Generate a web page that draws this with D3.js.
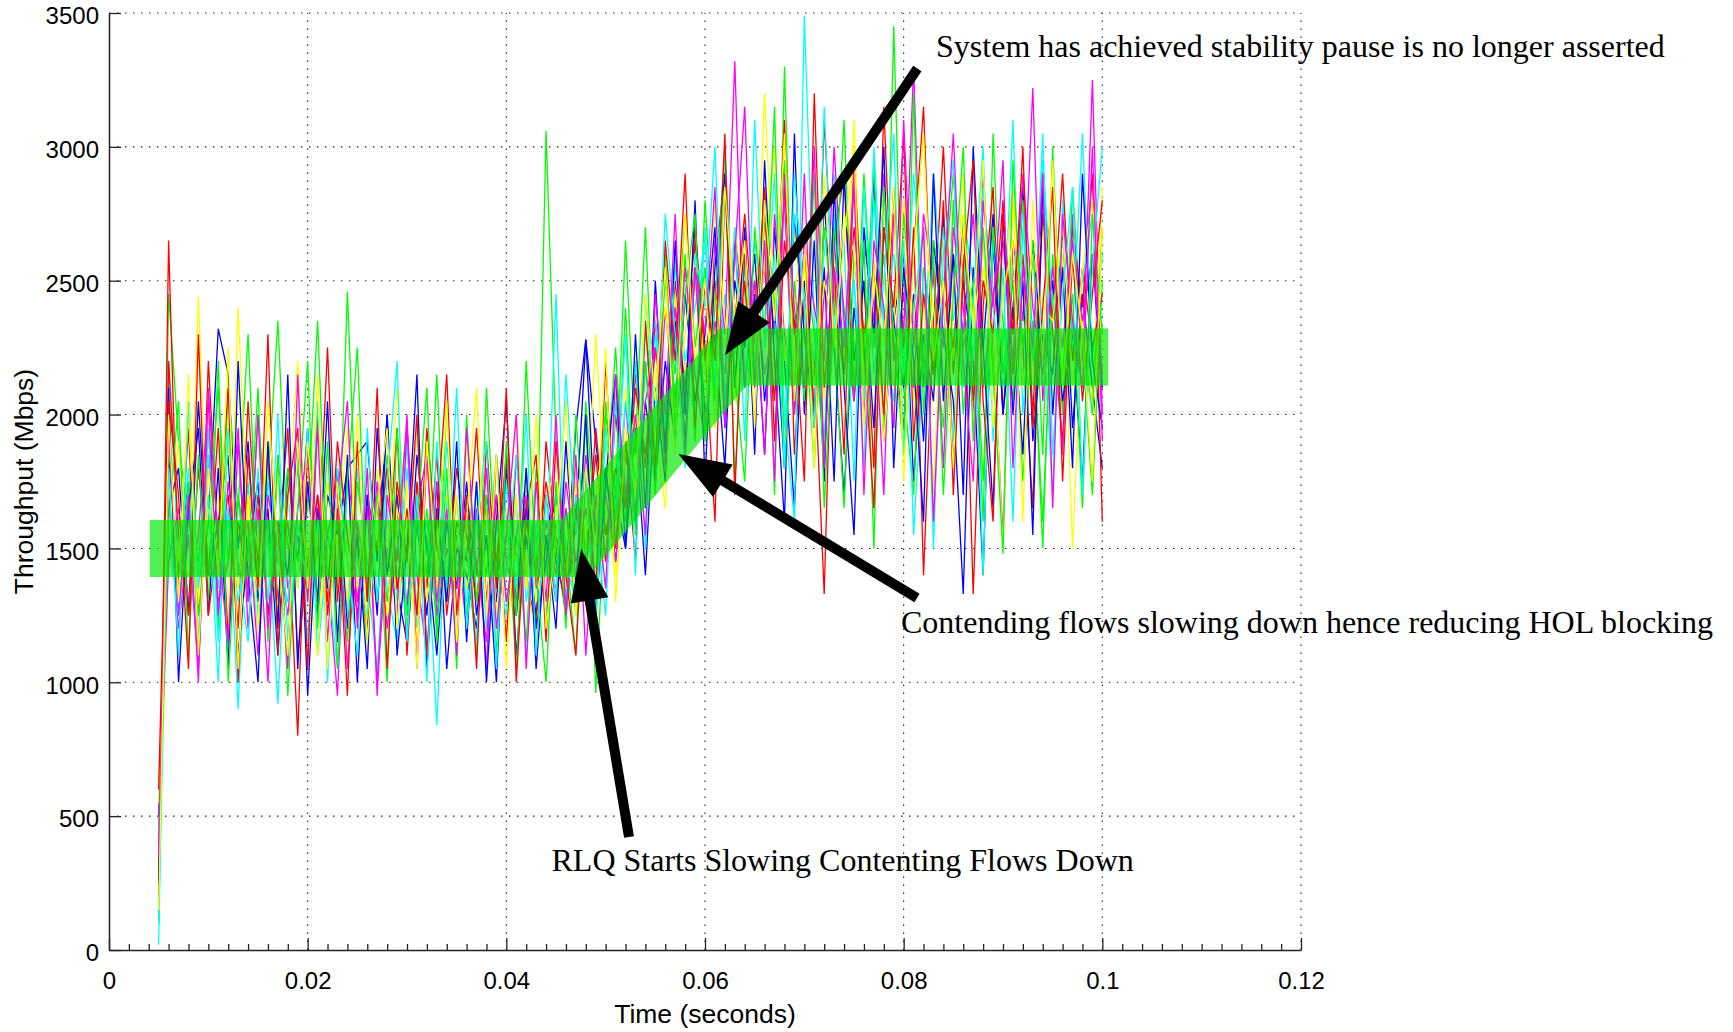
<!DOCTYPE html>
<html>
<head>
<meta charset="utf-8">
<script src="https://cdn.jsdelivr.net/npm/d3@7"></script>
<style>
  body { margin: 0; background: #fff; }
  svg { display: block; }
  .axis text { font-family: "Liberation Sans", Arial, sans-serif; font-size: 24px; fill: #000; }
  .axis-title { font-family: "Liberation Sans", Arial, sans-serif; font-size: 26.5px; fill: #000; }
  .note { font-family: "Liberation Serif", "Times New Roman", serif; font-size: 32px; fill: #000; }
</style>
</head>
<body>
<script>
/* ============================ DATA ============================ */
// sample instants (s), one per millisecond
var sampleTimes = [0.005,0.006,0.007,0.008,0.009,0.010,0.011,0.012,0.013,0.014,
  0.015,0.016,0.017,0.018,0.019,0.020,0.021,0.022,0.023,0.024,
  0.025,0.026,0.027,0.028,0.029,0.030,0.031,0.032,0.033,0.034,
  0.035,0.036,0.037,0.038,0.039,0.040,0.041,0.042,0.043,0.044,
  0.045,0.046,0.047,0.048,0.049,0.050,0.051,0.052,0.053,0.054,
  0.055,0.056,0.057,0.058,0.059,0.060,0.061,0.062,0.063,0.064,
  0.065,0.066,0.067,0.068,0.069,0.070,0.071,0.072,0.073,0.074,
  0.075,0.076,0.077,0.078,0.079,0.080,0.081,0.082,0.083,0.084,
  0.085,0.086,0.087,0.088,0.089,0.090,0.091,0.092,0.093,0.094,
  0.095,0.096,0.097,0.098,0.099,0.100];

// throughput of each flow (Mbps)
var flow01 = [300,1850,1400,1750,1250,1600,2320,2150,1500,1900, 1300,1650,1100,1800,1450,1950,1250,1700,1550,1800,
  1850,1900,1450,2000,1350,1150,1600,1250,1750,1050, 1500,1400,1200,1650,1300,1850,1100,1550,1250,1700,
  1450,1300,1600,2280,1900,1550,1700,1500,1950,1400, 2100,1750,2350,1900,2550,2000,2300,1800,2650,2100,
  2450,1850,2700,2200,1650,2500,1950,2800,2250,1700, 2400,2050,2900,1900,2350,2600,1750,2300,2050,2750,
  1800,2500,2200,1400,2650,2000,2400,2850,1900,2300, 2150,2700,1950,2450,2100,1800];
var flow02 = [150,2450,1900,1600,1450,1950,1200,2100,1650,2300, 1400,1750,2350,1500,1800,1300,2000,1550,1350,2460,
  1500,1150,1700,1300,1600,1950,1250,1650,1200,2050, 1350,1500,1100,2100,1400,1650,1050,1800,1350,3060,
  1900,1500,1100,2000,960,1700,2250,1600,1900,2700, 1800,2550,2050,2600,1900,2800,2200,2950,1750,2500,
  2100,2850,1700,3300,2000,2400,1800,2700,2300,1650, 2600,2200,2950,1900,3450,2100,1700,2550,2300,1950,
  2800,2000,2450,1600,3050,2150,2500,1750,2350,1500, 2600,2000,2850,2250,1700,2500];
var flow03 = [100,2650,1350,1950,1100,2200,1500,1700,1200,2050, 1450,1850,1300,1600,800,1900,1450,2250,1300,1750,
  1550,1200,1650,1400,1950,1100,1750,1350,1850,1250, 1600,1450,1950,1300,1700,1150,1850,1400,1200,1900,
  1550,1350,1700,1500,1850,1450,2000,1650,2150,1800, 2350,1950,2500,2100,2700,2250,1600,2850,2100,2500,
  1950,2750,2300,3100,1850,2450,2200,1330,2650,2900, 2050,2500,1800,3150,2250,1950,2700,1400,2350,3000,
  2150,2600,1330,2400,2850,2000,2550,2250,1650,2950, 2300,1900,2700,2400,2900,1600];
var flow04 = [20,2200,1450,1800,1150,1950,1350,1650,900,1750, 1250,1550,920,1700,1350,1950,1100,1500,1700,1250,
  1800,1400,1050,1650,1300,1900,1200,1550,840,1700, 1350,1500,1150,1800,1450,1250,1700,1100,1600,1400,
  2450,1300,1700,1450,1600,1250,2050,1700,2200,1500, 2300,1950,2600,2150,2000,2700,1950,2450,2250,2100,
  2650,2300,2900,2000,1600,3490,2350,1900,2750,2150, 2500,1800,3000,2300,2050,2650,1550,2200,2900,2400,
  1900,2750,2500,1400,2650,2250,3100,2000,2600,2350, 1700,2800,2300,3050,2200,2600];
var flow05 = [400,1700,1200,1550,1050,1850,1300,1450,1950,1200, 1650,1000,1850,1350,1550,1150,1700,1400,950,1800,
  1300,1650,1000,1500,1250,1950,1400,1100,1750,1350, 1550,1200,1650,1050,1850,1450,1300,1700,1150,1550,
  1300,1750,1450,1650,1350,1800,1500,2050,1600,2200, 1750,2400,2000,2550,2150,1900,2650,2300,3320,2100,
  2500,1850,2750,2300,2050,2900,1950,2450,2650,2200, 2850,2000,2450,1700,2750,2300,3300,2100,2550,1800,
  2700,2400,2000,2900,2250,1550,2650,2350,3220,2050, 2500,1850,2750,2200,3250,2000];
var flow06 = [250,1500,1900,1300,2440,1450,1700,1200,2400,1550, 1350,1900,1250,1650,2200,1400,1100,1750,1500,1950,
  1450,1250,1800,1400,2100,1500,1150,1850,1350,1700, 1500,1900,1300,1650,1200,1550,2000,1400,1150,1650,
  1850,1350,1750,1500,2300,1650,1400,2100,1750,2350, 1950,1650,2450,2150,2550,1900,2800,2350,2050,2600,
  2200,3200,2400,1900,2700,2250,2950,2050,2500,2200, 3100,2100,2600,1900,2350,2800,2050,2450,1700,2650,
  2200,2900,1950,2550,2300,1500,2800,2100,2450,2700, 2000,2600,1500,2350,2050,2850];
var flow07 = [500,1650,1800,1250,2050,1400,1600,1850,1100,1500, 1750,1250,1600,1400,1900,950,1650,1350,1800,1200,
  1550,1050,1950,1400,1700,1250,1850,1500,1100,1600, 1350,1750,1250,1550,1000,1800,1450,1650,1200,1450,
  1700,1400,1950,2280,1550,1800,1450,1900,1600,2050, 1750,2200,1900,2450,2050,2300,2700,1950,2500,2250,
  2600,2050,2400,1800,2750,2300,2000,2550,1750,2900, 2200,2500,1950,2700,2350,2100,2450,1900,2650,2300,
  2050,1330,2550,2250,2750,2000,2400,1850,2650,2200, 2500,2050,2300,1750,2600,2100];
var flow08 = [350,1900,1350,1750,1250,1600,2100,1450,1700,1300, 2000,1550,1250,1800,1450,1650,2350,1400,1600,1150,
  1750,1450,1300,1850,1550,1200,1650,1400,2150,1300, 1700,1250,1600,1400,1850,1300,1550,1150,1800,1500,
  1350,1650,1250,2050,1550,2000,1700,2650,1850,2300, 2050,2500,2150,2750,2250,2550,2050,2850,2350,2600,
  2150,2750,2400,2950,2100,2600,2300,1850,2700,2400, 2050,2900,2250,2600,1950,2750,2350,2150,2650,2450,
  2900,2250,2500,1750,2700,2350,2050,2800,2300,1600, 2450,2150,2650,2300,2000,2700];
var flow09 = [200,2200,1550,1250,1800,1400,1950,1150,1600,1350, 1700,1250,1500,1950,1100,1450,1700,1300,1900,1550,
  1250,1700,1500,1800,1350,1650,1250,1950,1500,1350, 1800,1550,1300,1700,1450,1850,1250,1600,1400,1750,
  1500,1250,1650,1400,1950,1550,1800,1650,2100,1850, 2250,1900,2400,2050,2650,2200,2500,2050,2350,2750,
  2250,2550,2050,2850,2300,2600,2000,3100,2400,2150, 2700,2300,2550,2000,2850,2250,2600,3150,2150,2450,
  2250,2700,2050,2500,2300,2800,2150,2600,2000,2750, 2350,2900,2200,2550,2250,2450];
var flow10 = [600,1550,1250,1700,1400,1850,1150,1650,1300,1550, 1200,1750,1450,1300,1850,1150,1600,1400,1050,1750,
  1450,1250,1700,1350,1150,1800,1400,1600,1250,1900, 1450,1300,1750,1200,1600,1400,1850,1300,1550,1250,
  1700,1450,1300,1750,1500,1900,1600,2050,1750,2150, 2350,1950,2550,2200,2400,2650,2100,2950,2300,2550,
  2150,2650,2350,1950,2750,2450,2200,2600,2900,2300, 2500,2050,2800,2350,2600,2150,2900,2450,2250,2700,
  2350,2600,2200,2850,2400,2100,2550,2750,2250,2950, 2400,2650,2250,2500,2750,2300];
var flow11 = [450,1450,1650,1300,1550,2050,1250,1750,1400,1600, 1100,1700,1500,1250,1650,1850,1300,1550,1750,1050,
  1600,1350,1750,1200,1500,1300,1650,1850,1250,1500, 1350,1650,1450,1150,1700,1300,1550,1750,1350,1600,
  1400,1650,1350,1850,1550,1700,1450,1850,1650,2050, 2250,1800,2400,2050,2550,1950,2350,2150,2700,2300,
  2500,2150,2350,2800,2000,2650,2400,2200,3000,2350, 2050,2650,2350,2900,2200,2450,2100,2750,2500,2250,
  2600,2300,2750,2100,2450,2650,2200,2900,2400,2150, 2550,2250,2650,2350,2600,2150];
var flow12 = [550,1750,1450,2000,1300,1650,1450,1900,1350,1700, 1500,1300,1800,1550,1350,1900,1450,1250,1700,1500,
  1350,1800,1550,1250,1650,1450,1950,1300,1600,1400, 1700,1350,1550,1900,1250,1650,1450,1750,1300,1550,
  1650,1400,1800,1550,1700,1950,1500,1850,2000,1750, 2150,2400,2000,2300,2600,2150,2450,2250,2700,2400,
  2250,2550,3000,2200,2450,2700,2100,2500,2300,2750, 2600,2250,2450,2850,2100,2550,2350,2700,2400,2050,
  2500,2750,2300,2650,2150,2450,2850,2250,2600,2400, 2350,2700,2100,2550,2800,2250];
var flow13 = [250,2100,1000,1650,1950,1250,1800,1050,2200,1400, 1000,1900,1200,2150,1050,1750,1300,2050,1150,1850,
  1000,1700,1250,2000,1100,1500,2150,1050,1650,1300, 1900,1150,1750,1000,1600,2050,1250,1800,1050,1550,
  1200,1900,1350,2000,1250,1750,2150,1500,2300,1650, 2500,1850,2650,2000,2800,1750,2550,2900,2100,2700,
  1850,2950,2200,1600,3050,2000,2650,1750,2850,2100, 1550,2700,2300,3000,1800,2550,2200,1600,2900,2050,
  2600,1700,3000,2250,1650,2750,2000,2500,1550,2850, 2000,2550,1800,2900,2200,1950];
var flow14 = [450,1600,2050,1100,1850,1300,2200,1000,1700,1450, 2100,1150,1850,950,1650,2200,1200,1900,1050,1750,
  2250,1300,1700,1000,1950,1250,1600,2100,1150,1800, 1050,2000,1300,1700,1100,1900,1250,2200,1400,1000,
  1750,1200,2000,1450,1250,2050,1600,2400,1550,2200, 1700,2600,1950,2450,2750,1900,2400,3000,2150,1750,
  2700,2300,3150,1800,2500,2050,2900,1650,2400,3100, 2100,2650,1500,2850,2300,1850,3200,2000,2600,1700,
  2450,3000,1900,2700,2150,1480,2950,2250,2650,1850, 3000,2100,2450,1650,2750,2300];
var flow15 = [600,2050,1700,1050,2300,1250,1550,2100,1000,1850, 1350,2300,1100,1700,1950,1050,2000,1250,1650,950,
  1900,1300,2100,1050,1750,1450,2000,1100,1600,2150, 1250,1700,1050,1900,1350,2100,1000,1650,1850,1150,
  1900,1400,1100,1800,1350,2200,1500,1900,1450,2350, 1800,2650,2200,2900,1950,2500,2200,3050,1700,2600,
  2300,2850,1900,2650,2350,1750,3200,2100,2550,1850, 2950,2250,1650,2700,2400,3050,1900,2450,2150,2800,
  1700,2550,2950,2050,1600,2750,2300,3000,1950,2400, 2850,1750,2600,2050,2450,2800];
var flow16 = [100,1800,1100,2050,1350,1700,1000,1950,1450,1150, 1800,1300,2000,1150,1600,1350,2050,1000,1800,1450,
  1100,1950,1300,1750,2200,1150,1700,1000,1900,1350, 2100,1200,1600,1900,1050,1750,1350,2000,1100,1700,
  1300,2150,1550,1800,1200,1950,1650,2300,1400,2450, 1950,2750,2300,1800,2600,2400,3000,2050,2700,1900,
  3100,2250,2600,1800,2900,2400,1950,3150,2300,2650, 1750,2850,2150,2500,3050,1850,2400,2700,1500,2600,
  2950,2100,2450,3000,1900,2550,1600,2700,2200,3050, 1850,2450,2850,1700,2550,3000];
var flow17 = [350,1950,1250,1700,1000,2100,1500,1150,1900,1300, 2000,1200,1600,1050,2150,1300,1950,1150,1700,2050,
  1200,1800,950,1700,1450,2000,1050,1850,1300,1650, 1100,1950,1400,1800,1200,1550,2000,1050,1750,1300,
  2000,1250,1850,1100,1700,1350,2150,1700,2000,1550, 2450,2000,2750,1850,2550,2300,2850,1950,2600,3150,
  2100,2650,1750,2900,2400,2100,3000,1800,2550,2250, 2900,1700,2650,2400,1950,3100,2250,2700,1600,2450,
  3050,2200,1750,2800,2400,2950,1800,2550,2250,2900, 1650,2750,2350,2100,3000,1900];
var flow18 = [150,2000,1300,2150,1100,1800,1400,2250,1050,1700, 1200,2050,1500,1100,1900,1350,2150,1050,1750,1300,
  2000,1150,1650,1950,1200,1750,1050,1900,1400,2050, 1150,1600,2100,1250,1850,1050,1700,1350,2000,1200,
  1550,2050,1250,1800,1500,2250,1300,1950,1700,2450, 2050,2550,1850,2750,2200,2500,1950,2850,2350,2650,
  1950,2800,2350,3050,2050,2600,1800,2900,2250,2650, 3000,1950,2550,2250,2850,1750,2600,3050,2200,2500,
  1800,2700,2350,2950,1950,2450,2650,1600,2800,2200, 2950,2100,2600,2300,1750,2700];

var flows = [flow01, flow02, flow03, flow04, flow05, flow06, flow07, flow08, flow09,
             flow10, flow11, flow12, flow13, flow14, flow15, flow16, flow17, flow18];
var flowColors = ["#0000ff", "#00ff00", "#ff0000", "#00ffff", "#ff00ff", "#ffff00"];

// hand drawn green trend band (time s, Mbps)
var bandTimes = [0.0041, 0.0469, 0.0628, 0.1006];
var bandValues = [1500, 1500, 2215, 2215];

// axis ticks
var xTicks = [0, 0.02, 0.04, 0.06, 0.08, 0.1, 0.12];
var xTickLabels = ["0", "0.02", "0.04", "0.06", "0.08", "0.1", "0.12"];
var yTicks = [0, 500, 1000, 1500, 2000, 2500, 3000, 3500];
var yTickLabels = ["0", "500", "1000", "1500", "2000", "2500", "3000", "3500"];

// annotations (text anchor and arrow tail -> tip, in data units)
var notes = [
  {text: "System has achieved stability pause is no longer asserted", tx: 0.08326, ty: 3334,
   from: [0.08138, 3293], to: [0.06201, 2222]},
  {text: "Contending flows slowing down hence reducing HOL blocking", tx: 0.07973, ty: 1184,
   from: [0.08134, 1315], to: [0.05732, 1853]},
  {text: "RLQ Starts Slowing Contenting Flows Down", tx: 0.04455, ty: 295,
   from: [0.05235, 422], to: [0.04752, 1498]}
];

/* ============================ SETUP ============================ */
var width = 1733, height = 1032;

var x = d3.scaleLinear().domain([0, 0.12]).range([109, 1301]);
var y = d3.scaleLinear().domain([0, 3500]).range([950, 13]);

var svg = d3.select('body').append('svg')
    .attr('width', width)
    .attr('height', height);

/* ============================ GRID ============================ */
var grid = svg.append('g').attr('class', 'grid')
    .attr('stroke', '#222')
    .attr('stroke-width', 1.1)
    .attr('stroke-dasharray', '1.5,6.5');

grid.selectAll('.vgrid')
    .data(xTicks.filter(d => d > 0))
  .enter().append('line')
    .attr('x1', d => x(d)).attr('x2', d => x(d))
    .attr('y1', y(0)).attr('y2', y(3500));

grid.selectAll('.hgrid')
    .data(yTicks.filter(d => d > 0))
  .enter().append('line')
    .attr('x1', x(0)).attr('x2', x(0.12))
    .attr('y1', d => y(d)).attr('y2', d => y(d));

/* ============================ FLOWS ============================ */
var line = d3.line()
    .x((d, i) => x(sampleTimes[i]))
    .y(d => y(d));

svg.append('g').selectAll('path')
    .data(flows)
  .enter().append('path')
    .attr('d', d => line(d))
    .attr('fill', 'none')
    .attr('stroke', (d, i) => flowColors[i % flowColors.length])
    .attr('stroke-width', 1.3);

/* ============================ BAND ============================ */
var bandLine = d3.line()
    .x((d, i) => x(bandTimes[i]))
    .y(d => y(d));

svg.append('path')
    .attr('d', bandLine(bandValues))
    .attr('fill', 'none')
    .attr('stroke', 'rgb(0,232,0)')
    .attr('stroke-opacity', 0.68)
    .attr('stroke-width', 57)
    .attr('stroke-linejoin', 'miter');

/* ============================ AXES ============================ */
var yAxis = d3.axisLeft(y)
    .tickValues(yTicks)
    .tickFormat((d, i) => yTickLabels[i])
    .tickSizeInner(-12)
    .tickSizeOuter(0)
    .tickPadding(10);

var xAxis = d3.axisBottom(x)
    .tickValues(xTicks)
    .tickFormat((d, i) => xTickLabels[i])
    .tickSizeInner(-12)
    .tickSizeOuter(0)
    .tickPadding(22);

var xMinor = d3.axisBottom(x)
    .tickValues(d3.range(0.002, 0.12, 0.002).filter(d => Math.abs(d / 0.02 - Math.round(d / 0.02)) > 1e-6))
    .tickFormat('')
    .tickSizeInner(-6)
    .tickSizeOuter(0);

var gy = svg.append('g').attr('class', 'axis').attr('transform', 'translate(' + x(0) + ',0)').call(yAxis);
var gx = svg.append('g').attr('class', 'axis').attr('transform', 'translate(0,' + y(0) + ')').call(xAxis);
var gm = svg.append('g').attr('class', 'axis').attr('transform', 'translate(0,' + y(0) + ')').call(xMinor);
gm.select('.domain').remove();

gy.selectAll('text').attr('dy', '0.45em');
svg.selectAll('.axis .domain').attr('stroke', '#222').attr('stroke-width', 1.5);
svg.selectAll('.axis .tick line').attr('stroke', '#222').attr('stroke-width', 1.3);

svg.append('text')
    .attr('class', 'axis-title')
    .attr('text-anchor', 'middle')
    .attr('x', (x(0) + x(0.12)) / 2)
    .attr('y', 1023)
    .text('Time (seconds)');

svg.append('text')
    .attr('class', 'axis-title')
    .attr('text-anchor', 'middle')
    .attr('transform', 'translate(33,' + (y(0) + y(3500)) / 2 + ') rotate(-90)')
    .text('Throughput (Mbps)');

/* ============================ ANNOTATIONS ============================ */
var headLen = 52, headHalf = 19;

notes.forEach(function(n) {
  var x1 = x(n.from[0]), y1 = y(n.from[1]);
  var x2 = x(n.to[0]), y2 = y(n.to[1]);
  var len = Math.hypot(x2 - x1, y2 - y1);
  var ux = (x2 - x1) / len, uy = (y2 - y1) / len;
  var bx = x2 - ux * headLen, by = y2 - uy * headLen;

  svg.append('line')
      .attr('x1', x1).attr('y1', y1)
      .attr('x2', bx + ux * 2).attr('y2', by + uy * 2)
      .attr('stroke', '#000')
      .attr('stroke-width', 10);

  svg.append('polygon')
      .attr('points', [[x2, y2], [bx - uy * headHalf, by + ux * headHalf], [bx + uy * headHalf, by - ux * headHalf]].join(' '))
      .attr('fill', '#000');

  svg.append('text')
      .attr('class', 'note')
      .attr('x', x(n.tx))
      .attr('y', y(n.ty))
      .text(n.text);
});
</script>
</body>
</html>
